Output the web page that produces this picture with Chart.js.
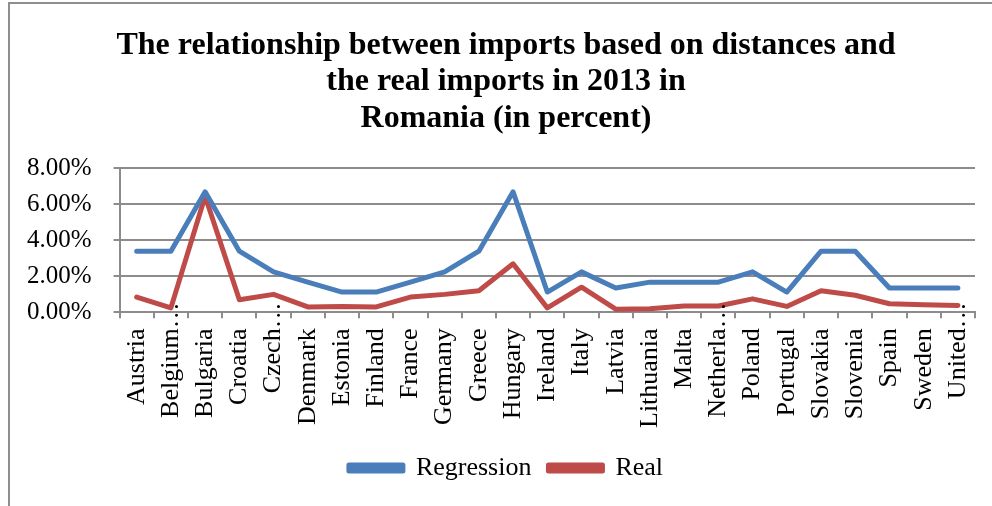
<!DOCTYPE html>
<html>
<head>
<meta charset="utf-8">
<script src="https://cdn.jsdelivr.net/npm/chart.js@4"></script>
<style>
  html, body { margin: 0; padding: 0; background: #ffffff; }
  body { width: 992px; height: 506px; position: relative; overflow: hidden; }
  #frame {
    position: absolute; left: 8px; top: 2px; width: 1100px; height: 600px;
    border-left: 2px solid #8e8e8e; border-top: 2px solid #8e8e8e;
  }
  #wrap { position: absolute; left: 0; top: 0; width: 992px; height: 506px; }
</style>
</head>
<body>
<div id="frame"></div>
<div id="wrap"><canvas id="chart" width="992" height="506"></canvas></div>
<script>
// Partner countries (labels as shortened on the axis)
const countries = [
  "Austria", "Belgium\u2026", "Bulgaria", "Croatia", "Czech\u2026", "Denmark", "Estonia",
  "Finland", "France", "Germany", "Greece", "Hungary", "Ireland", "Italy", "Latvia",
  "Lithuania", "Malta", "Netherla\u2026", "Poland", "Portugal", "Slovakia", "Slovenia",
  "Spain", "Sweden", "United\u2026"
];

// Share of imports predicted from distances (percent)
const regression = [
  3.40, 3.40, 6.70, 3.40, 2.25, 1.68, 1.13, 1.13, 1.68, 2.25, 3.40, 6.70, 1.13,
  2.25, 1.35, 1.68, 1.68, 1.68, 2.25, 1.13, 3.40, 3.40, 1.35, 1.35, 1.35
];

// Actual share of imports in 2013 (percent)
const real = [
  0.85, 0.25, 6.45, 0.70, 1.00, 0.30, 0.33, 0.30, 0.85, 1.00, 1.20, 2.70, 0.25,
  1.40, 0.18, 0.20, 0.35, 0.35, 0.75, 0.33, 1.20, 0.95, 0.48, 0.43, 0.38
];

// Value axis range and step (percent)
const yMin = 0, yMax = 8, yStep = 2;

const serif = "'Liberation Serif', 'Times New Roman', serif";
const gridGray = "#8c8c8c";
const ELLIPSIS = "\u2026";
const xFont = { family: serif, size: 26 };
const xTickLength = 6, xTickPadding = 10;

// Shortened category names: the name is drawn as a tick label and its
// trailing ellipsis runs on past the label's start, over the axis line.
const truncationMarks = {
  id: "truncationMarks",
  afterDraw(chart) {
    const scale = chart.scales.x;
    const ctx = chart.ctx;
    const startY = scale.top + xTickLength + xTickPadding;
    ctx.save();
    ctx.fillStyle = "#000000";
    ctx.font = `${xFont.size}px ${xFont.family}`;
    ctx.textAlign = "left";
    ctx.textBaseline = "middle";
    countries.forEach((name, i) => {
      if (!name.endsWith(ELLIPSIS)) return;
      const x = scale.getPixelForTick(i);
      ctx.save();
      ctx.translate(x, startY);
      ctx.rotate(-Math.PI / 2);
      ctx.fillText(ELLIPSIS, 0, 0);
      ctx.restore();
    });
    ctx.restore();
  }
};

new Chart(document.getElementById("chart"), {
  type: "line",
  data: {
    labels: countries,
    datasets: [
      {
        label: "Regression",
        data: regression,
        borderColor: "#4a7ebb",
        backgroundColor: "#4a7ebb",
        borderWidth: 5,
        pointRadius: 0,
        tension: 0,
        borderJoinStyle: "round",
        borderCapStyle: "round"
      },
      {
        label: "Real",
        data: real,
        borderColor: "#be4b48",
        backgroundColor: "#be4b48",
        borderWidth: 5,
        pointRadius: 0,
        tension: 0,
        borderJoinStyle: "round",
        borderCapStyle: "round"
      }
    ]
  },
  options: {
    responsive: false,
    animation: false,
    layout: { padding: { left: 5, right: -15, top: 0, bottom: 15 } },
    plugins: {
      title: {
        display: true,
        text: [
          "The relationship between imports based on distances and",
          "the real imports in 2013 in",
          "Romania (in percent)"
        ],
        color: "#000000",
        font: { family: serif, size: 32, weight: "bold", lineHeight: 1.15 },
        padding: { top: 27, bottom: 31 }
      },
      legend: {
        position: "bottom",
        labels: {
          color: "#000000",
          font: { family: serif, size: 26 },
          boxWidth: 54,
          boxHeight: 6,
          padding: 17
        }
      },
      tooltip: { enabled: false }
    },
    scales: {
      x: {
        offset: true,
        afterFit(scale) {
          // keep a fixed right margin instead of one sized for the last rotated label
          scale.paddingRight = 17;
        },
        grid: {
          offset: true,
          drawOnChartArea: false,
          drawTicks: true,
          tickLength: xTickLength,
          color: gridGray,
          lineWidth: 2
        },
        border: { color: gridGray, width: 2 },
        ticks: {
          color: "#000000",
          font: xFont,
          maxRotation: 90,
          minRotation: 90,
          autoSkip: false,
          padding: xTickPadding,
          callback(value, index) {
            const name = countries[index];
            return name.endsWith(ELLIPSIS) ? name.slice(0, -1) : name;
          }
        }
      },
      y: {
        min: yMin,
        max: yMax,
        grid: {
          color: gridGray,
          lineWidth: 2,
          drawTicks: true,
          tickLength: 6
        },
        border: { color: gridGray, width: 2 },
        ticks: {
          stepSize: yStep,
          color: "#000000",
          font: { family: serif, size: 25 },
          padding: 22,
          callback: (v) => v.toFixed(2) + "%"
        }
      }
    }
  },
  plugins: [truncationMarks]
});
</script>
</body>
</html>
